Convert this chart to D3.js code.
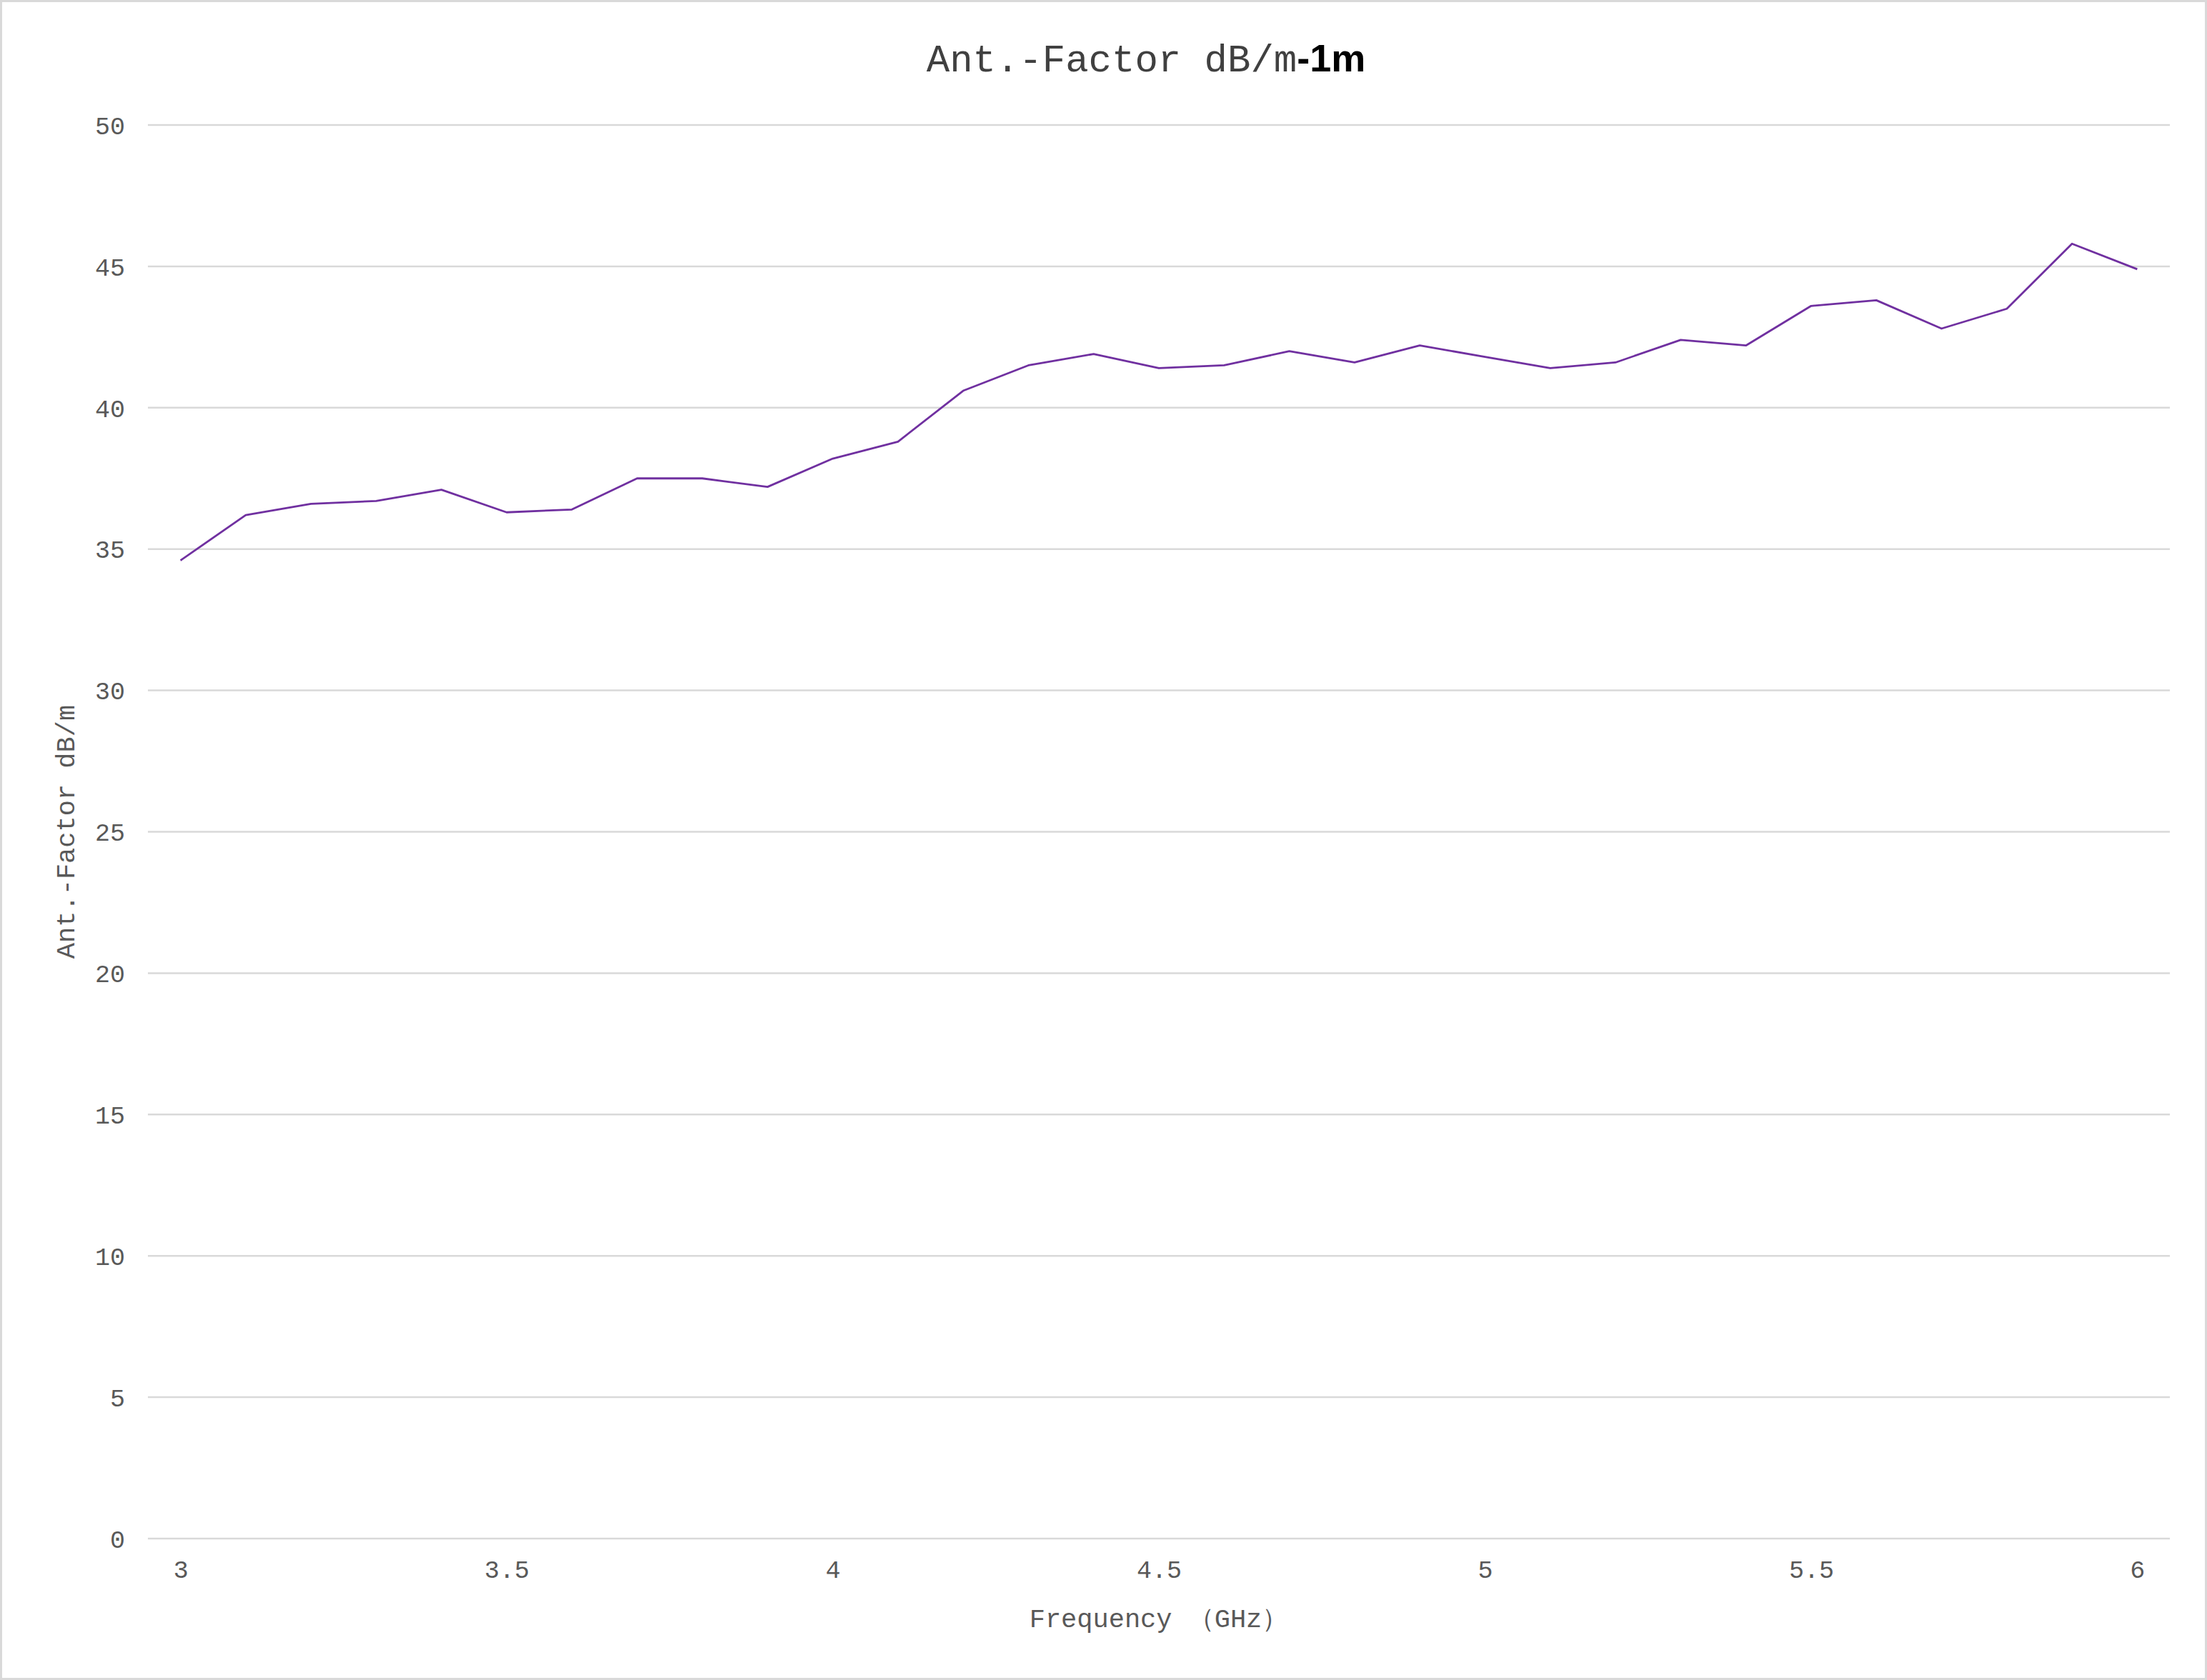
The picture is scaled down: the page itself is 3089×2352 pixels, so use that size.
<!DOCTYPE html>
<html>
<head>
<meta charset="utf-8">
<script src="https://cdn.jsdelivr.net/npm/d3@7"></script>
<style>
  html, body { margin: 0; padding: 0; background: #fff; }
  svg { display: block; }
  text { font-family: "Liberation Mono", "DejaVu Sans Mono", monospace; fill: #595959; }
</style>
</head>
<body>
<svg id="chart" width="3089" height="2352"></svg>
<script>
// frequency categories in GHz
var freqs = [3.0, 3.1, 3.2, 3.3, 3.4, 3.5, 3.6, 3.7, 3.8, 3.9,
  4.0, 4.1, 4.2, 4.3, 4.4, 4.5, 4.6, 4.7, 4.8, 4.9,
  5.0, 5.1, 5.2, 5.3, 5.4, 5.5, 5.6, 5.7, 5.8, 5.9, 6.0];
// antenna factor dB/m at 1m
var antFactor = [34.6, 36.2, 36.6, 36.7, 37.1, 36.3, 36.4, 37.5, 37.5, 37.2,
  38.2, 38.8, 40.6, 41.5, 41.9, 41.4, 41.5, 42.0, 41.6, 42.2,
  41.8, 41.4, 41.6, 42.4, 42.2, 43.6, 43.8, 42.8, 43.5, 45.8, 44.9];
var xTickLabels = ["3", "3.5", "4", "4.5", "5", "5.5", "6"];
var yTicks = [0, 5, 10, 15, 20, 25, 30, 35, 40, 45, 50];

var svg = d3.select("#chart"),
  width = +svg.attr("width"),
  height = +svg.attr("height"),
  margin = {top: 175, right: 52, bottom: 198, left: 207},
  innerW = width - margin.left - margin.right,
  innerH = height - margin.top - margin.bottom;

// outer chart border
svg.append("rect")
  .attr("x", 1.5).attr("y", 1.5)
  .attr("width", width - 3).attr("height", height - 3)
  .attr("fill", "#fff").attr("stroke", "#d9d9d9").attr("stroke-width", 3);

var g = svg.append("g").attr("transform", "translate(" + margin.left + "," + margin.top + ")");

var x = d3.scalePoint()
  .domain(freqs.map(String))
  .range([0, innerW])
  .padding(0.5);

var y = d3.scaleLinear()
  .domain([0, 50])
  .range([innerH, 0]);

// gridlines
g.append("g").selectAll("line")
  .data(yTicks)
  .enter()
  .append("line")
  .attr("x1", 0).attr("x2", innerW)
  .attr("y1", function(d){ return y(d); })
  .attr("y2", function(d){ return y(d); })
  .attr("stroke", "#d9d9d9")
  .attr("stroke-width", 2.5);

// y axis labels
var yAxis = g.append("g")
  .call(d3.axisLeft(y).tickValues(yTicks).tickSize(0).tickPadding(32));
yAxis.select(".domain").remove();
yAxis.selectAll("text")
  .style("font-size", "35px")
  .style("font-family", "Liberation Mono")
  .attr("fill", "#595959")
  .attr("dy", "0.35em");

// x axis labels, every fifth category
var xAxis = g.append("g")
  .attr("transform", "translate(0," + innerH + ")")
  .call(d3.axisBottom(x)
    .tickValues(freqs.filter(function(d, i){ return i % 5 === 0; }).map(String))
    .tickFormat(function(d, i){ return xTickLabels[i]; })
    .tickSize(0).tickPadding(30));
xAxis.select(".domain").remove();
xAxis.selectAll("text")
  .style("font-size", "35px")
  .style("font-family", "Liberation Mono")
  .attr("fill", "#595959");

// data line
var line = d3.line()
  .x(function(d, i){ return x(String(freqs[i])); })
  .y(function(d){ return y(d); });

g.append("path")
  .datum(antFactor)
  .attr("d", line)
  .attr("fill", "none")
  .attr("stroke", "#7030a0")
  .attr("stroke-width", 2.8)
  .attr("stroke-linejoin", "round");

// chart title
var title = svg.append("text")
  .attr("x", 1604).attr("y", 100)
  .attr("text-anchor", "middle")
  .style("font-size", "54px")
  .attr("fill", "#404040");
title.append("tspan").text("Ant.-Factor dB/m").attr("fill", "#404040");
title.append("tspan").text("-1m")
  .style("font-family", "Liberation Sans, Arial, sans-serif")
  .style("font-weight", "bold")
  .attr("fill", "#000");

// axis titles
svg.append("text")
  .attr("x", margin.left + innerW / 2).attr("y", 2278)
  .attr("text-anchor", "middle")
  .style("font-size", "37px")
  .text("Frequency （GHz）");

svg.append("text")
  .attr("transform", "translate(104," + (margin.top + innerH / 2) + ") rotate(-90)")
  .attr("text-anchor", "middle")
  .style("font-size", "37px")
  .text("Ant.-Factor dB/m");
</script>
</body>
</html>
